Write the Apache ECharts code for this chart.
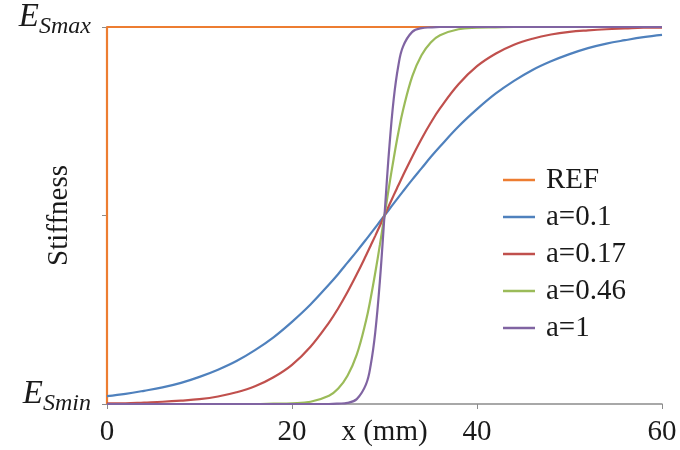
<!DOCTYPE html>
<html>
<head>
<meta charset="utf-8">
<script src="https://cdn.jsdelivr.net/npm/echarts@6/dist/echarts.min.js"></script>
<style>
  html, body { margin: 0; padding: 0; background: #fff; }
  #chart { width: 680px; height: 450px; }
</style>
</head>
<body>
<div id="chart"></div>
<script>
const xs = [0, 2, 4, 6, 8, 10, 12, 14, 16, 18, 20, 22, 24, 25, 26, 27, 28, 28.5, 29, 29.5,
  30, 30.5, 31, 31.5, 32, 33, 34, 35, 36, 38, 40, 42, 44, 46, 48, 50, 52, 54, 56, 58, 60]

// normalised stiffness (0 = E_Smin, 1 = E_Smax)
const a010 = [0.021, 0.027, 0.035, 0.044, 0.056, 0.072, 0.091, 0.114, 0.143, 0.177, 0.218, 0.264, 0.317, 0.345, 0.375, 0.405, 0.436, 0.452, 0.468, 0.484,
  0.5, 0.516, 0.532, 0.548, 0.564, 0.595, 0.625, 0.655, 0.683, 0.736, 0.782, 0.823, 0.857, 0.886, 0.909, 0.928, 0.944, 0.956, 0.965, 0.973, 0.979]
const a017 = [0.002, 0.002, 0.004, 0.006, 0.009, 0.013, 0.020, 0.031, 0.047, 0.071, 0.104, 0.152, 0.216, 0.254, 0.297, 0.344, 0.394, 0.420, 0.446, 0.473,
  0.5, 0.527, 0.554, 0.580, 0.606, 0.656, 0.703, 0.746, 0.784, 0.848, 0.896, 0.929, 0.953, 0.969, 0.980, 0.987, 0.991, 0.994, 0.996, 0.998, 0.998]
const a046 = [0, 0, 0, 0, 0, 0, 0, 0, 0, 0.001, 0.002, 0.006, 0.022, 0.041, 0.075, 0.131, 0.221, 0.280, 0.348, 0.422,
  0.5, 0.578, 0.652, 0.720, 0.779, 0.869, 0.925, 0.959, 0.978, 0.994, 0.998, 0.999, 1, 1, 1, 1, 1, 1, 1, 1, 1]
const a1 = [0, 0, 0, 0, 0, 0, 0, 0, 0, 0, 0, 0, 0, 0.001, 0.003, 0.013, 0.052, 0.102, 0.190, 0.326,
  0.5, 0.674, 0.810, 0.898, 0.948, 0.987, 0.997, 0.999, 1, 1, 1, 1, 1, 1, 1, 1, 1, 1, 1, 1, 1]

// reference: step from min to max at x = 0
const refX = [0, 0, 60]
const refY = [0, 1, 1]

const names = ['REF', 'a=0.1', 'a=0.17', 'a=0.46', 'a=1']
const colors = ['#ED7D31', '#4F81BD', '#C0504D', '#9BBB59', '#8064A2']
const xTicks = [0, 20, 40, 60]

const FONT = 'Liberation Serif'

const pairs = (x, y) => x.map((v, i) => [v, y[i]])

const lineSeries = (name, data, color) => ({
  name,
  type: 'line',
  data,
  symbol: 'none',
  smooth: 0.4,
  lineStyle: { color, width: 2.2 },
  itemStyle: { color },
})

const chart = echarts.init(document.getElementById('chart'), null, { renderer: 'canvas' })

chart.setOption({
  backgroundColor: '#fff',
  animation: false,
  grid: { left: 107, right: 18, top: 27, bottom: 46, outerBoundsMode: 'none', containLabel: false },
  legend: {
    data: names,
    orient: 'vertical',
    left: 498,
    top: 160,
    icon: 'rect',
    itemWidth: 32,
    itemHeight: 2.5,
    itemGap: 7,
    textStyle: { fontFamily: FONT, fontSize: 29, color: '#1a1a1a', lineHeight: 30, padding: [0, 0, 0, 6] },
  },
  xAxis: {
    type: 'value',
    min: 0,
    max: 60,
    interval: 20,
    name: 'x (mm)',
    nameLocation: 'middle',
    nameGap: 14,
    nameMoveOverlap: false,
    nameTextStyle: { fontFamily: FONT, fontSize: 29, color: '#1a1a1a', verticalAlign: 'top' },
    axisLine: { lineStyle: { color: '#8c8c8c', width: 1.5 } },
    axisTick: { show: true, length: 5, lineStyle: { color: '#8c8c8c' } },
    splitLine: { show: false },
    axisLabel: {
      fontFamily: FONT,
      fontSize: 29,
      color: '#1a1a1a',
      margin: 14,
      formatter: (v) => (xTicks.includes(v) ? String(v) : ''),
    },
  },
  yAxis: {
    type: 'value',
    min: 0,
    max: 1,
    interval: 0.5,
    name: 'Stiffness',
    nameLocation: 'middle',
    nameGap: 33,
    nameMoveOverlap: false,
    nameTextStyle: { fontFamily: FONT, fontSize: 29, color: '#1a1a1a' },
    axisLine: { show: true, lineStyle: { color: '#8c8c8c', width: 1.5 } },
    axisTick: { show: true, length: 5, lineStyle: { color: '#8c8c8c' } },
    splitLine: { show: false },
    axisLabel: {
      margin: 16,
      padding: [0, 0, 20, 0],
      formatter: (v) => (v === 0 ? '{e|E}{s|Smin}' : v === 1 ? '{e|E}{s|Smax}' : ''),
      rich: {
        e: { fontFamily: FONT, fontSize: 33, fontStyle: 'italic', color: '#1a1a1a' },
        s: { fontFamily: FONT, fontSize: 24, fontStyle: 'italic', color: '#1a1a1a', padding: [20, 0, 0, 0] },
      },
    },
  },
  series: [
    lineSeries(names[0], pairs(refX, refY), colors[0]),
    lineSeries(names[1], pairs(xs, a010), colors[1]),
    lineSeries(names[2], pairs(xs, a017), colors[2]),
    lineSeries(names[3], pairs(xs, a046), colors[3]),
    lineSeries(names[4], pairs(xs, a1), colors[4]),
  ],
})
</script>
</body>
</html>
